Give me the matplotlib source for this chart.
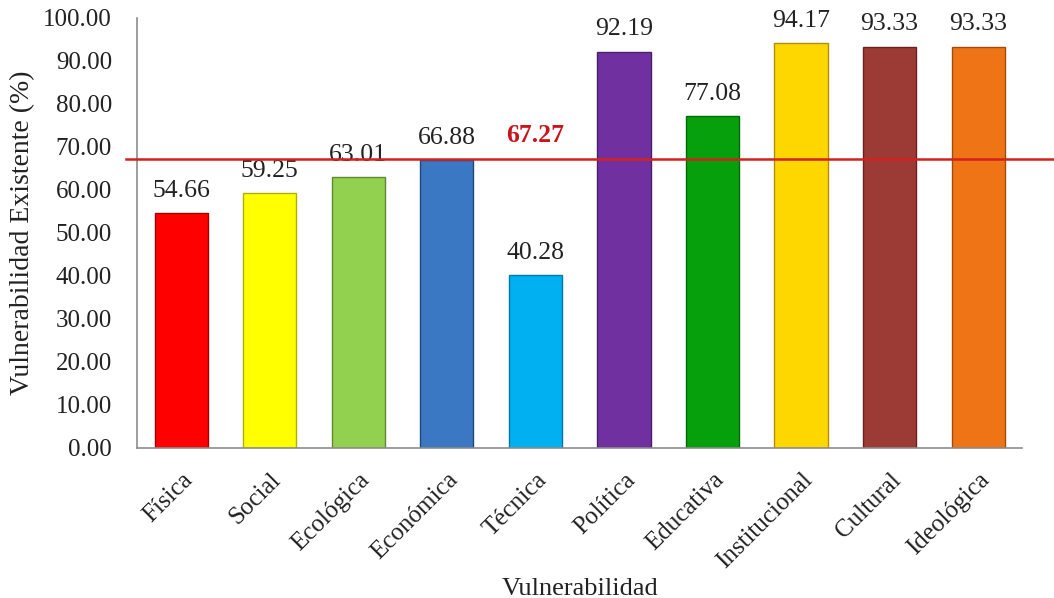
import numpy as np
import matplotlib.pyplot as plt

# datos
categorias = ['Física', 'Social', 'Ecológica', 'Económica', 'Técnica',
              'Política', 'Educativa', 'Institucional', 'Cultural', 'Ideológica']
valores = [54.66, 59.25, 63.01, 66.88, 40.28, 92.19, 77.08, 94.17, 93.33, 93.33]
promedio = 67.27
colores = ['#ff0000', '#ffff00', '#92d050', '#3a78c3', '#00b0f0',
           '#7030a0', '#06a00c', '#ffd700', '#9c3a36', '#ee7416']
bordes = ['#a00000', '#b0b000', '#5f8a30', '#1f4a80', '#0078a8',
          '#4a1f6a', '#046a08', '#b09000', '#6a2220', '#a04c0a']

plt.rcParams['font.family'] = ['Liberation Serif', 'DejaVu Serif']

fig = plt.figure(figsize=(10.54, 5.98), dpi=100)
ax = fig.add_axes([0.130, 0.251, 0.840, 0.719])

x = np.arange(len(categorias))
ax.bar(x, valores, width=0.6, color=colores, edgecolor=bordes, linewidth=1.0, zorder=2)

for xi, v in zip(x, valores):
    ax.text(xi, v + 2.6, f'{v:.2f}', ha='center', va='bottom', fontsize=18.5, color='#222222')

# linea de promedio
ax.axhline(promedio, xmin=-0.012, xmax=1.04, color='#d42020', linewidth=1.8, clip_on=False, zorder=3)
ax.text(4, promedio + 2.6, f'{promedio:.2f}', ha='center', va='bottom', fontsize=18.5,
        color='#c8141c', fontweight='bold')

ax.set_xlim(-0.5, 9.5)
ax.set_ylim(0, 100)
ax.set_yticks(np.arange(0, 101, 10))
ax.set_yticklabels([f'{t:.2f}' for t in np.arange(0, 101, 10)])
ax.set_xticks(x)
ax.set_xticklabels(categorias, rotation=45, ha='right', rotation_mode='anchor')
ax.tick_params(axis='both', length=0, labelsize=18, colors='#222222')
ax.tick_params(axis='x', pad=15)
ax.tick_params(axis='y', pad=18)

for s in ['top', 'right']:
    ax.spines[s].set_visible(False)
for s in ['left', 'bottom']:
    ax.spines[s].set_color('#8c8c8c')
    ax.spines[s].set_linewidth(1.2)

ax.set_ylabel('Vulnerabilidad Existente (%)', fontsize=20, color='#222222', labelpad=6)
ax.set_xlabel('Vulnerabilidad', fontsize=19, color='#222222', labelpad=4)

plt.savefig('out.png', dpi=100)
